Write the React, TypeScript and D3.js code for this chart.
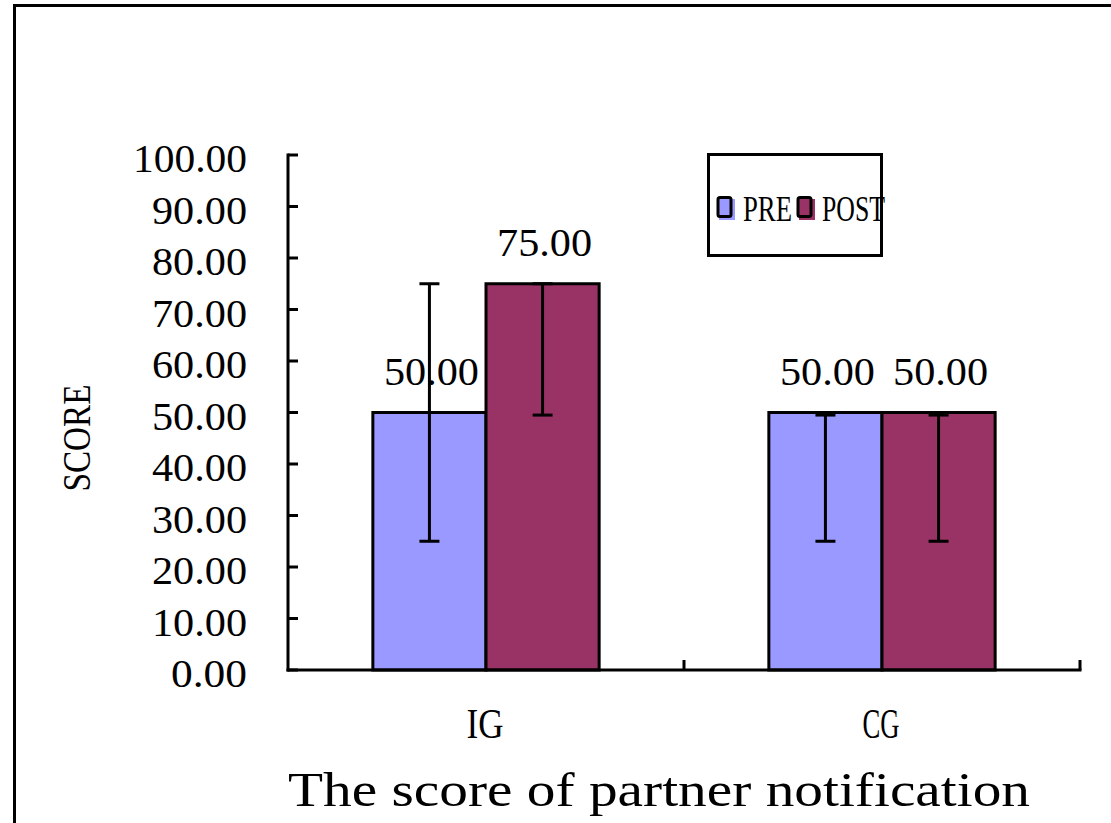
import React from "react";
import * as d3 from "d3";

const categories = ["IG", "CG"];
const seriesNames = ["PRE", "POST"];
const seriesColors = ["#9999FF", "#993366"];
const preValues = [50, 50];
const postValues = [75, 50];
const preErrLow = [25, 25];
const preErrHigh = [75, 49.5];
const postErrLow = [49.5, 25];
const postErrHigh = [75, 49.5];
const yTicks = [0, 10, 20, 30, 40, 50, 60, 70, 80, 90, 100];
const titleText = "The score of partner notification";
const yAxisTitle = "SCORE";

const FONT = "'Liberation Serif', 'DejaVu Serif', serif";

export default function App() {
  const W = 1111;
  const H = 823;
  const left = 288;
  const right = 1080;
  const top = 155;
  const bottom = 670;

  const x0 = d3.scaleBand<string>().domain(categories).range([left, right]).paddingInner(0).paddingOuter(0);
  const groupW = x0.bandwidth() * (2 / 3.5);
  const x1 = d3.scaleBand<string>().domain(seriesNames).range([0, groupW]).padding(0);
  const y = d3.scaleLinear().domain([0, 100]).range([bottom, top]);

  const values = [preValues, postValues];
  const errLow = [preErrLow, postErrLow];
  const errHigh = [preErrHigh, postErrHigh];

  const charW = 19;
  const fmt = d3.format(".2f");

  return (
    <svg width={W} height={H} style={{ position: "absolute", left: 0, top: 0, background: "#fff" }} fontFamily={FONT}>
      <rect x={0} y={0} width={W} height={H} fill="#fff" />
      {/* outer border */}
      <rect x={14.5} y={5.5} width={W + 20} height={H + 20} fill="none" stroke="#000" strokeWidth={3} />

      {/* bars */}
      {categories.map((c, ci) => {
        const gx = (x0(c) as number) + (x0.bandwidth() - groupW) / 2;
        return seriesNames.map((s, si) => {
          const bx = gx + (x1(s) as number);
          const v = values[si][ci];
          return (
            <rect key={c + s} x={bx} y={y(v)} width={x1.bandwidth()} height={y(0) - y(v)}
              fill={seriesColors[si]} stroke="#000" strokeWidth={3} />
          );
        });
      })}

      {/* error bars */}
      {categories.map((c, ci) => {
        const gx = (x0(c) as number) + (x0.bandwidth() - groupW) / 2;
        return seriesNames.map((s, si) => {
          const cx = gx + (x1(s) as number) + x1.bandwidth() / 2;
          const lo = y(errLow[si][ci]);
          const hi = y(errHigh[si][ci]);
          return (
            <g key={"e" + c + s} stroke="#000" strokeWidth={3}>
              <line x1={cx} x2={cx} y1={hi} y2={lo} />
              <line x1={cx - 10} x2={cx + 10} y1={hi} y2={hi} />
              <line x1={cx - 10} x2={cx + 10} y1={lo} y2={lo} />
            </g>
          );
        });
      })}

      {/* value labels */}
      {categories.map((c, ci) => {
        const gx = (x0(c) as number) + (x0.bandwidth() - groupW) / 2;
        return seriesNames.map((s, si) => {
          const cx = gx + (x1(s) as number) + x1.bandwidth() / 2;
          const v = values[si][ci];
          const t = fmt(v);
          return (
            <text key={"v" + c + s} x={cx + 2} y={y(v) - 28} textAnchor="middle" fontSize={40}
              textLength={t.length * charW} lengthAdjust="spacingAndGlyphs">{t}</text>
          );
        });
      })}

      {/* axes */}
      <g stroke="#000" strokeWidth={3} fill="none">
        <line x1={left} x2={left} y1={top - 1.5} y2={bottom + 1.5} />
        <line x1={left - 1.5} x2={right + 1.5} y1={bottom} y2={bottom} />
        {yTicks.map((t) => (
          <line key={"yt" + t} x1={left} x2={left + 10} y1={y(t)} y2={y(t)} />
        ))}
        {[left, ...categories.map((c) => (x0(c) as number) + x0.bandwidth())].slice(1).map((xv, i) => (
          <line key={"xt" + i} x1={xv} x2={xv} y1={bottom} y2={bottom - 10} />
        ))}
      </g>

      {/* y tick labels */}
      {yTicks.map((t) => {
        const s = fmt(t);
        return (
          <text key={"yl" + t} x={247} y={y(t) + 17} textAnchor="end" fontSize={40}
            textLength={s.length * charW} lengthAdjust="spacingAndGlyphs">{s}</text>
        );
      })}

      {/* category labels */}
      {categories.map((c) => (
        <text key={"cl" + c} x={(x0(c) as number) + x0.bandwidth() / 2 - 1} y={738} textAnchor="middle" fontSize={42}
          textLength={c.length * 18.5} lengthAdjust="spacingAndGlyphs">{c}</text>
      ))}

      {/* y axis title */}
      <text transform="translate(90,438) rotate(-90)" textAnchor="middle" fontSize={39}
        textLength={107} lengthAdjust="spacingAndGlyphs">{yAxisTitle}</text>

      {/* chart title */}
      <text x={288} y={806} fontSize={48} textLength={742} lengthAdjust="spacingAndGlyphs">{titleText}</text>

      {/* legend */}
      <rect x={708.5} y={154.5} width={173} height={101} fill="#fff" stroke="#000" strokeWidth={3} />
      {seriesNames.map((s, i) => {
        const sx = [718, 798][i];
        const tx = [743, 822][i];
        const tw = [49, 63][i];
        return (
          <g key={"lg" + s}>
            <rect x={sx + 1} y={199} width={16} height={21} fill={seriesColors[i]} />
            <rect x={sx} y={197.5} width={13} height={19} rx={2} fill="none" stroke="#000" strokeWidth={3} />
            <text x={tx} y={221} fontSize={35} textLength={tw} lengthAdjust="spacingAndGlyphs">{s}</text>
          </g>
        );
      })}
    </svg>
  );
}
